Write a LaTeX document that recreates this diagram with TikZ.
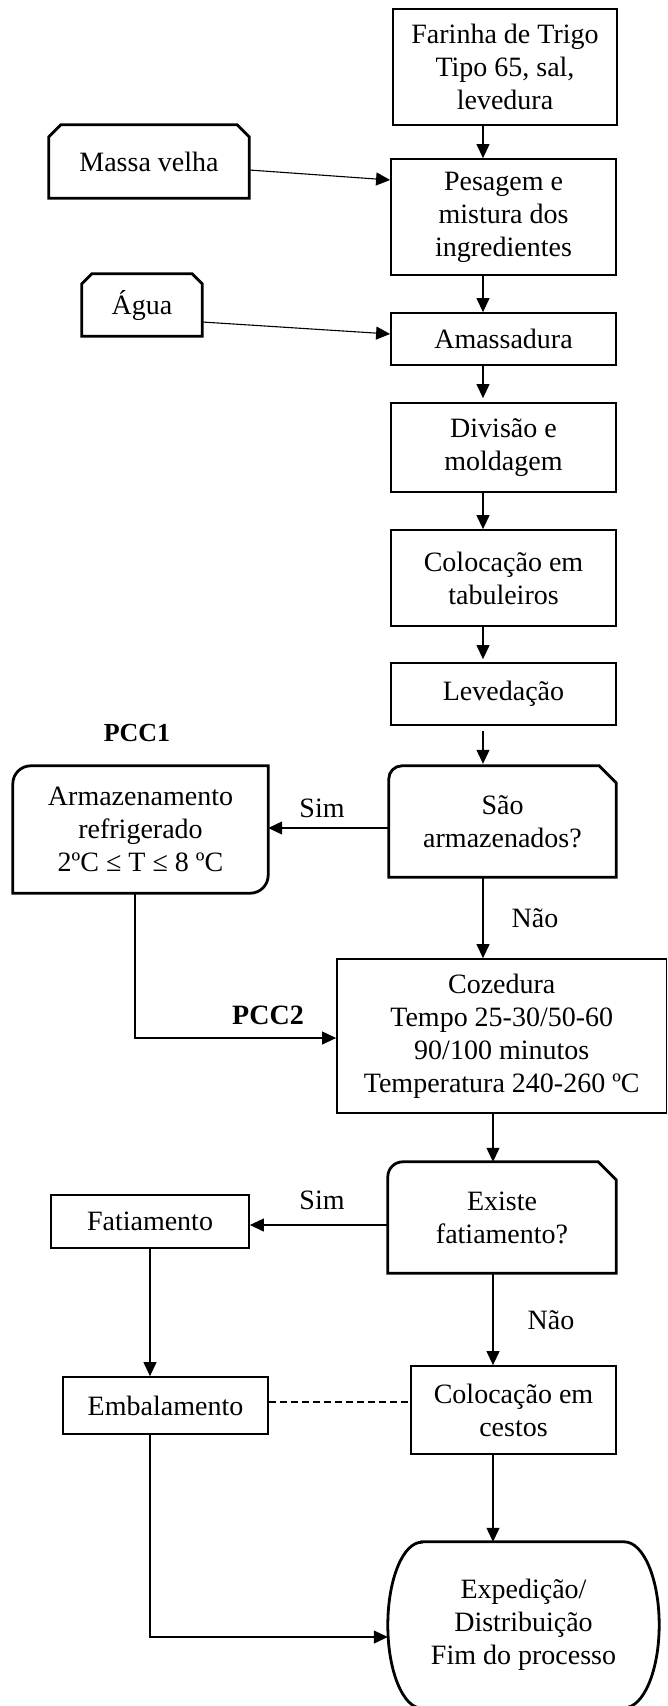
\documentclass[tikz,border=0pt]{standalone}
\usepackage{fontspec}
\setmainfont{Liberation Serif}
\usetikzlibrary{arrows.meta,calc}
\begin{document}
\begin{tikzpicture}[x=1pt,y=-1pt,
  txt/.style={font=\fontsize{28}{33}\selectfont, align=center, inner sep=0pt},
  stepbox/.style={txt, draw, line width=1.8pt, rectangle},
  frame/.style={txt, rectangle},
  outl/.style={line width=2.8pt},
  conn/.style={line width=1.1pt, -{Triangle[length=14pt,width=13pt]}},
  link/.style={line width=1.1pt, dash pattern=on 7pt off 4pt},
  pcc/.style={txt, font=\fontsize{28}{33}\selectfont\bfseries}
]
\fill[white] (0,0) rectangle (668,1706);
\useasboundingbox (0,0) rectangle (668,1706);

% main column spines
\coordinate (spA) at (483,0);
\coordinate (spB) at (493,0);

% process steps
\node[stepbox, minimum width=224pt, minimum height=116pt] (far) at (505,67) {Farinha de Trigo\\Tipo 65, sal,\\levedura};
\node[stepbox, minimum width=225pt, minimum height=116pt] (pes) at (503.5,217) {Pesagem e\\mistura dos\\ingredientes};
\node[stepbox, minimum width=225pt, minimum height=52pt] (ama) at (503.5,339) {Amassadura};
\node[stepbox, minimum width=225pt, minimum height=89pt] (div) at (503.5,447.5) {Divisão e\\moldagem};
\node[stepbox, minimum width=225pt, minimum height=96pt] (tab) at (503.5,578) {Colocação em\\tabuleiros};
\node[stepbox, minimum width=225pt, minimum height=62pt] (lev) at (503.5,694) {Levedação};
\node[stepbox, minimum width=329.5pt, minimum height=154pt] (coz) at (501.75,1036) {Cozedura\\Tempo 25-30/50-60\\90/100 minutos\\Temperatura 240-260 ºC};
\node[stepbox, minimum width=198pt, minimum height=53pt] (fat) at (150,1221.5) {Fatiamento};
\node[stepbox, minimum width=205pt, minimum height=57pt] (emb) at (165.5,1405.5) {Embalamento};
\node[stepbox, minimum width=205pt, minimum height=88pt] (ces) at (513.5,1410) {Colocação em\\cestos};

% inputs (chamfered top corners)
\node[frame, minimum width=200pt, minimum height=73pt] (mv) at (149,161.5) {Massa velha};
\node[frame, minimum width=120pt, minimum height=62pt] (agua) at (142,305) {Água};
\draw[outl] (mv.south west) -- ($(mv.north west)+(0,12)$) -- ($(mv.north west)+(12,0)$)
  -- ($(mv.north east)+(-12,0)$) -- ($(mv.north east)+(0,12)$) -- (mv.south east) -- cycle;
\draw[outl] (agua.south west) -- ($(agua.north west)+(0,10)$) -- ($(agua.north west)+(10,0)$)
  -- ($(agua.north east)+(-10,0)$) -- ($(agua.north east)+(0,10)$) -- (agua.south east) -- cycle;

% decisions
\node[frame, minimum width=227pt, minimum height=111pt] (sao) at (502.5,821.5) {São\\armazenados?};
\node[frame, minimum width=228pt, minimum height=111pt] (exi) at (502,1217.5) {Existe\\fatiamento?};
\draw[outl] (sao.south west) -- ($(sao.north west)+(0,13)$) arc[start angle=180,end angle=90,radius=13pt]
  -- ($(sao.north east)+(-17,0)$) -- ($(sao.north east)+(0,17)$) -- (sao.south east) -- cycle;
\draw[outl] (exi.south west) -- ($(exi.north west)+(0,15)$) arc[start angle=180,end angle=90,radius=15pt]
  -- ($(exi.north east)+(-18,0)$) -- ($(exi.north east)+(0,18)$) -- (exi.south east) -- cycle;

% refrigerated storage
\node[frame, minimum width=255pt, minimum height=127pt] (arm) at (140.5,829.5) {Armazenamento\\refrigerado\\2ºC ≤ T ≤ 8 ºC};
\draw[outl] (arm.south west) -- ($(arm.north west)+(0,18)$) arc[start angle=180,end angle=90,radius=18pt]
  -- (arm.north east) -- ($(arm.south east)+(0,-18)$) arc[start angle=0,end angle=-90,radius=18pt] -- cycle;

% terminal
\node[frame, minimum width=271pt, minimum height=166pt] (exp) at (523.5,1625) {Expedição/\\Distribuição\\Fim do processo};
\draw[outl] ($(exp.north west)+(34,0)$) -- ($(exp.north east)+(-35,0)$)
  arc[start angle=90,end angle=-90,x radius=35pt,y radius=83pt]
  -- ($(exp.south west)+(34,0)$)
  arc[start angle=-90,end angle=-270,x radius=34pt,y radius=83pt] -- cycle;

% labels
\node[pcc, font=\fontsize{26}{30}\selectfont\bfseries] (pcc1) at (137,733) {PCC1};
\node[pcc] (pcc2) at (268,1015) {PCC2};
\node[txt] (sim1) at (322,808) {Sim};
\node[txt] (nao1) at (535,918) {Não};
\node[txt] (sim2) at (322,1200) {Sim};
\node[txt] (nao2) at (551,1320) {Não};

% main flow
\draw[conn] (far.south -| spA) -- (pes.north -| spA);
\draw[conn] (pes.south -| spA) -- (ama.north -| spA);
\draw[conn] (ama.south -| spA) -- ($(div.north -| spA)+(0,-4)$);
\draw[conn] (div.south -| spA) -- (tab.north -| spA);
\draw[conn] (tab.south -| spA) -- ($(lev.north -| spA)+(0,-3)$);
\draw[conn] ($(lev.south -| spA)+(0,5)$) -- ($(sao.north -| spA)+(0,-2)$);
\draw[conn] (sao.south -| spA) -- (coz.north -| spA);
\draw[conn] (coz.south -| spB) -- (exi.north -| spB);
\draw[conn] (exi.south -| spB) -- (ces.north -| spB);
\draw[conn] (ces.south -| spB) -- (exp.north -| spB);

% side inputs
\draw[conn] ($(mv.east)+(0,8.5)$) -- ($(pes.west)+(0,-37)$);
\draw[conn] ($(agua.east)+(0,17)$) -- ($(ama.west)+(0,-5)$);

% branches
\draw[conn] ($(sao.west)+(0,6.5)$) -- ($(sao.west -| arm.east)+(0,6.5)$);
\draw[conn] ($(arm.south)+(-5.5,0)$) |- ($(coz.west)+(0,2)$);
\draw[conn] ($(exi.west)+(0,7.5)$) -- ($(exi.west -| fat.east)+(0,7.5)$);
\draw[conn] (fat.south) -- (fat.south |- emb.north);
\draw[link] ($(emb.east)+(0,-3.5)$) -- ($(emb.east -| ces.west)+(0,-3.5)$);
\draw[conn] (emb.south -| fat.south) |- ($(exp.west)+(0,12)$);
\end{tikzpicture}
\end{document}
